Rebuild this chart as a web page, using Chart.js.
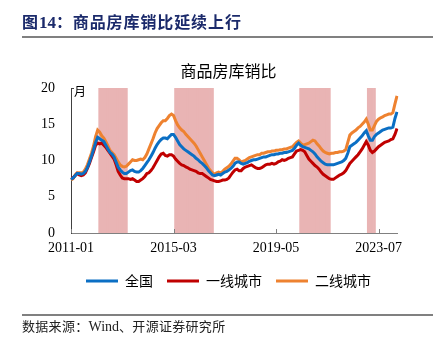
<!DOCTYPE html>
<html><head><meta charset="utf-8">
<script src="https://cdn.jsdelivr.net/npm/chart.js@4.4.1/dist/chart.umd.min.js"></script>
<style>
html,body{margin:0;padding:0;background:#fff;}
body{width:441px;height:352px;position:relative;overflow:hidden;}
#c{position:absolute;left:0;top:0;}
#hdr{position:absolute;left:22px;top:11px;font-family:"Noto Sans CJK SC";font-weight:bold;font-size:16px;color:#1B2A6B;letter-spacing:0.9px;line-height:20px;white-space:nowrap;}
#hdr .n{font-family:"Liberation Serif";font-weight:bold;font-size:17px;letter-spacing:0;}
#hline{position:absolute;left:22px;top:36px;width:411px;height:2px;background:#808080;}
#fline{position:absolute;left:22px;top:314px;width:411px;height:2px;background:#808080;}
#src{position:absolute;left:22px;top:318px;font-family:"Noto Sans CJK SC";font-size:13px;color:#222;line-height:16px;white-space:nowrap;letter-spacing:0.3px;}
#src .w{font-family:"Liberation Serif";font-size:14px;letter-spacing:0;}
</style>
</head>
<body>
<canvas id="c" width="441" height="352" style="width:441px;height:352px"></canvas>
<div id="hdr">图<span class="n">14</span>：商品房库销比延续上行</div>
<div id="hline"></div>
<div id="fline"></div>
<div id="src">数据来源：<span class="w">Wind</span>、开源证券研究所</div>
<script>
// ---- data ----
const firstYear = 2011, firstMonth = 1, monthCount = 160;
const months = [];
for (let i = 0; i < monthCount; i++) {
  const t = (firstMonth - 1) + i;
  const y = firstYear + Math.floor(t / 12);
  const m = (t % 12) + 1;
  months.push(y + '-' + (m < 10 ? '0' + m : m));
}
const tickLabels = ['2011-01', '2015-03', '2019-05', '2023-07'];
const seriesNames = ['全国', '一线城市', '二线城市'];
const chartTitle = '商品房库销比';
const unitLabel = '月';

const national = [
  7.4, 7.6, 7.9, 8.2, 8.2, 8.1, 8.2, 8.5, 9.0, 9.8, 10.6, 11.5,
  12.5, 13.2, 13.0, 12.8, 12.6, 12.1, 11.6, 11.1, 10.9, 10.5, 9.8, 9.1,
  8.7, 8.4, 8.2, 8.2, 8.4, 8.6, 8.7, 8.5, 8.4, 8.4, 8.6, 8.9,
  9.3, 9.7, 10.1, 10.6, 11.1, 11.7, 12.2, 12.6, 12.9, 13.1, 13.1, 13.0,
  13.3, 13.6, 13.6, 13.2, 12.7, 12.2, 11.9, 11.6, 11.4, 11.2, 11.0, 10.8,
  10.6, 10.3, 10.1, 9.8, 9.6, 9.3, 9.0, 8.6, 8.3, 8.0, 7.9, 8.0,
  8.1, 8.0, 8.2, 8.4, 8.5, 8.7, 8.9, 9.2, 9.6, 9.8, 9.8, 9.6,
  9.5, 9.6, 9.7, 9.9, 10.0, 10.1, 10.1, 10.2, 10.3, 10.4, 10.5, 10.5,
  10.6, 10.7, 10.8, 10.8, 10.9, 10.9, 11.0, 11.0, 11.1, 11.1, 11.2, 11.3,
  11.4, 11.7, 12.1, 12.4, 12.1, 11.9, 11.8, 11.7, 11.6, 11.4, 11.2, 10.9,
  10.5, 10.2, 9.9, 9.7, 9.5, 9.4, 9.4, 9.4, 9.4, 9.5, 9.6, 9.7,
  9.8, 10.0, 10.3, 11.0, 11.9, 12.1, 12.3, 12.5, 12.8, 13.1, 13.4, 13.8,
  14.1, 13.4, 12.8, 12.8, 13.3, 13.6, 13.8, 14.0, 14.2, 14.3, 14.4, 14.5,
  14.5, 14.6, 15.8, 16.7
];
const tier1 = [
  7.6, 7.6, 7.9, 8.2, 8.0, 7.9, 8.0, 8.3, 8.9, 9.6, 10.4, 11.2,
  12.1, 12.4, 12.3, 12.4, 12.1, 11.8, 11.4, 11.0, 10.6, 10.2, 9.4, 8.5,
  8.0, 7.6, 7.5, 7.5, 7.5, 7.4, 7.5, 7.3, 7.1, 7.1, 7.3, 7.5,
  7.8, 8.2, 8.3, 8.6, 9.0, 9.5, 10.0, 10.5, 10.9, 11.0, 10.7, 10.6,
  10.8, 10.8, 10.6, 10.2, 9.9, 9.6, 9.4, 9.3, 9.1, 9.0, 8.8, 8.7,
  8.6, 8.5, 8.3, 8.2, 8.2, 8.0, 7.8, 7.6, 7.4, 7.3, 7.2, 7.1,
  7.1, 7.2, 7.3, 7.3, 7.4, 7.6, 8.0, 8.4, 8.7, 8.8, 8.6, 8.6,
  8.9, 9.1, 9.2, 9.3, 9.4, 9.2, 9.0, 8.9, 8.9, 9.0, 9.2, 9.4,
  9.5, 9.5, 9.6, 9.5, 9.6, 9.8, 9.9, 10.1, 10.0, 10.1, 10.3, 10.4,
  10.5, 10.9, 11.3, 11.4, 11.5, 11.4, 11.2, 10.7, 10.2, 9.9, 9.6, 9.3,
  9.1, 8.8, 8.4, 8.1, 7.9, 7.7, 7.5, 7.4, 7.4, 7.6, 7.8, 8.0,
  8.1, 8.3, 8.6, 9.1, 9.6, 9.9, 10.2, 10.5, 10.8, 11.2, 11.6, 12.1,
  12.6, 12.1, 11.4, 11.1, 11.3, 11.6, 11.9, 12.1, 12.3, 12.5, 12.6, 12.7,
  12.9, 13.0, 13.6, 14.4
];
const tier2 = [
  7.3, 7.5, 8.0, 8.3, 8.3, 8.3, 8.4, 8.8, 9.4, 10.2, 11.0, 12.0,
  13.3, 14.2, 13.9, 13.4, 13.1, 12.6, 12.0, 11.4, 11.1, 10.8, 10.3, 9.8,
  9.4, 9.2, 9.1, 9.2, 9.5, 9.8, 10.1, 10.0, 10.0, 10.1, 10.2, 10.1,
  10.4, 10.9, 11.6, 12.3, 13.0, 13.8, 14.4, 14.8, 15.2, 15.5, 15.5, 15.8,
  16.2, 16.4, 16.2, 15.5, 14.9, 14.5, 14.2, 14.0, 13.6, 13.3, 13.0, 12.7,
  12.4, 12.0, 11.5, 11.0, 10.5, 10.0, 9.5, 9.0, 8.6, 8.3, 8.1, 8.3,
  8.4, 8.3, 8.5, 8.8, 9.0, 9.2, 9.5, 9.9, 10.3, 10.3, 10.1, 9.8,
  9.9, 10.0, 10.2, 10.4, 10.5, 10.6, 10.7, 10.8, 10.8, 11.0, 11.0, 11.1,
  11.2, 11.2, 11.3, 11.3, 11.4, 11.4, 11.5, 11.5, 11.6, 11.6, 11.7, 11.8,
  11.9, 12.2, 12.5, 12.7, 12.4, 12.1, 12.2, 12.3, 12.4, 12.6, 12.8, 12.7,
  12.3, 12.0, 11.6, 11.3, 11.1, 11.0, 10.9, 11.0, 11.0, 11.1, 11.1, 11.2,
  11.2, 11.3, 11.5, 12.5, 13.5, 13.8, 14.0, 14.2, 14.5, 14.7, 15.0, 15.3,
  15.7, 15.0, 14.2, 14.2, 14.8, 15.4, 15.7, 15.9, 16.0, 16.2, 16.3, 16.4,
  16.4, 16.6, 17.8, 18.9
];
const shadeStarts = ['2012-03', '2015-04', '2020-05', '2023-02'];
const shadeEnds   = ['2013-04', '2016-10', '2021-07', '2023-05'];
const shadeTop = 20;

// ---- build ----
const shadeData = months.map(m => {
  for (let k = 0; k < shadeStarts.length; k++) {
    if (m >= shadeStarts[k] && m <= shadeEnds[k]) return shadeTop;
  }
  return null;
});

const colors = ['#0B6FC4', '#C00000', '#EE8230'];
const lineData = [national, tier1, tier2];
const datasets = lineData.map((d, i) => ({
  type: 'line', label: seriesNames[i], data: d,
  borderColor: colors[i], backgroundColor: colors[i],
  borderWidth: 3, pointRadius: 0, tension: 0, order: 0
}));
datasets.push({
  type: 'bar', label: 'shade', data: shadeData,
  backgroundColor: '#E9B4B4', borderWidth: 0,
  barPercentage: 1, categoryPercentage: 1, order: 1
});

const extras = {
  id: 'extras',
  afterDraw(chart) {
    const ctx = chart.ctx, x = chart.scales.x, y = chart.scales.y;
    ctx.save();
    ctx.strokeStyle = '#808080';
    ctx.lineWidth = 1;
    tickLabels.forEach(l => {
      const px = Math.round(x.getPixelForValue(months.indexOf(l))) + 0.5;
      ctx.beginPath();
      ctx.moveTo(px, y.bottom);
      ctx.lineTo(px, y.bottom - 4);
      ctx.stroke();
    });
    ctx.strokeStyle = '#404040';
    const ty = Math.round(y.getPixelForValue(y.max)) + 0.5;
    ctx.beginPath();
    ctx.moveTo(x.left, ty);
    ctx.lineTo(x.left + 3, ty);
    ctx.stroke();
    ctx.fillStyle = '#000';
    ctx.font = '12px "Noto Sans CJK SC"';
    ctx.textBaseline = 'middle';
    ctx.textAlign = 'left';
    ctx.fillText(unitLabel, x.left + 3, y.getPixelForValue(y.max) + 3);
    ctx.restore();
  }
};

new Chart(document.getElementById('c'), {
  type: 'line',
  data: { labels: months, datasets },
  plugins: [extras],
  options: {
    responsive: false,
    animation: false,
    devicePixelRatio: 1,
    layout: { padding: { left: 60, right: 44, top: 61, bottom: 54 } },
    plugins: {
      title: {
        display: true, text: chartTitle, color: '#000',
        font: { family: 'Noto Sans CJK SC', size: 16, weight: 'normal', lineHeight: 1.2 },
        padding: { top: 0, bottom: 7.8 }
      },
      legend: {
        position: 'bottom',
        labels: {
          boxWidth: 32, boxHeight: 3, padding: 14, color: '#000',
          font: { family: 'Noto Sans CJK SC', size: 14 },
          generateLabels(chart) {
            const items = Chart.defaults.plugins.legend.labels.generateLabels(chart);
            return items.filter(it => it.datasetIndex < 3)
              .map(it => Object.assign(it, { lineWidth: 0, fillStyle: colors[it.datasetIndex] }));
          }
        }
      },
      tooltip: { enabled: false }
    },
    scales: {
      x: {
        type: 'category', offset: false,
        grid: { display: false, drawTicks: false },
        border: { display: true, color: '#808080', width: 1 },
        ticks: {
          autoSkip: false, maxRotation: 0, minRotation: 0, padding: 7, color: '#000',
          font: { family: 'Liberation Serif', size: 14 },
          callback: function (v) { const l = this.getLabelForValue(v); return tickLabels.includes(l) ? l : null; }
        },
        afterFit(s) { s.height = 27; s.paddingLeft = 0; s.paddingRight = 0; }
      },
      y: {
        min: 0, max: 20,
        grid: { display: false, drawTicks: false },
        border: { display: true, color: '#404040', width: 1 },
        ticks: {
          stepSize: 5, mirror: true, crossAlign: 'far', padding: -30, color: '#000',
          font: { family: 'Liberation Serif', size: 14 }
        },
        afterFit(s) { s.width = 11; }
      }
    }
  }
});
</script>
</body></html>
